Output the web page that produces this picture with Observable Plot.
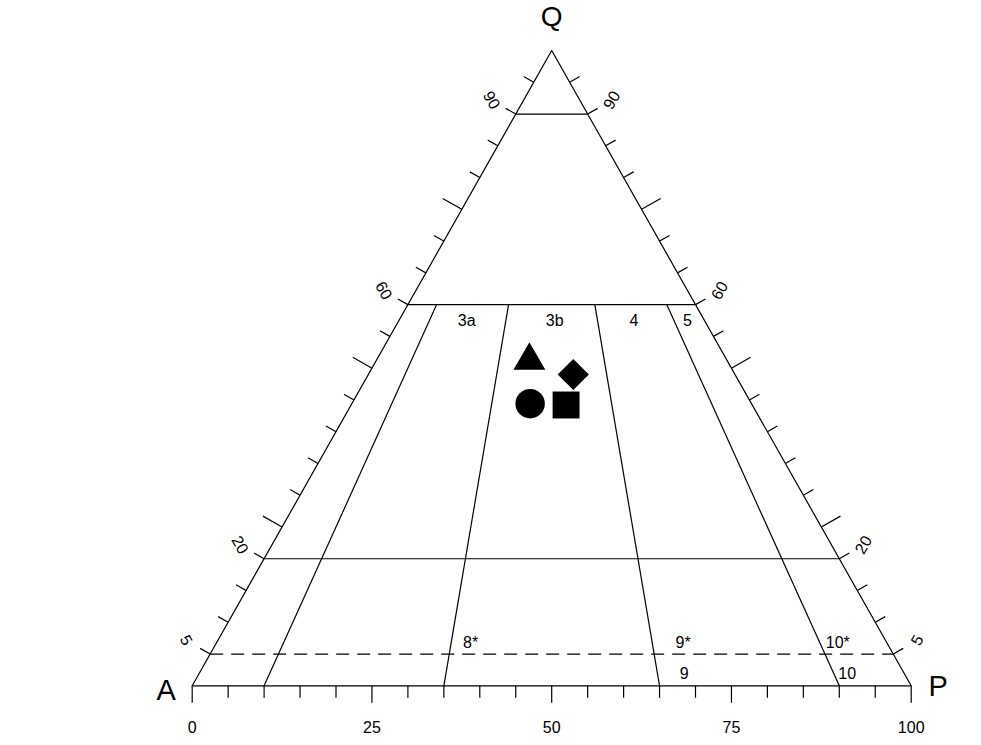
<!DOCTYPE html>
<html>
<head>
<meta charset="utf-8">
<script src="https://cdn.jsdelivr.net/npm/d3@7"></script>
<script src="https://cdn.jsdelivr.net/npm/@observablehq/plot@0.6"></script>
<style>
  body { margin: 0; background: #fff; }
  #chart svg { display: block; }
</style>
</head>
<body>
<div id="chart"></div>
<script>
// ---- Data (QAP ternary, percentages) ----
const cornerLabels = ["A", "P", "Q"];
const cornerQ = [0, 0, 100];
const cornerA = [100, 0, 0];
const cornerP = [0, 100, 0];

const solidQLines = [90, 60, 20];
const dashedQLines = [5];
const ratioLines = [10, 35, 65, 90];        // 100*P/(A+P) boundaries
const ratioLineTopQ = 60;

const baseTicks = [0, 5, 10, 15, 20, 25, 30, 35, 40, 45, 50, 55, 60, 65, 70, 75, 80, 85, 90, 95, 100];
const baseTickLabels = [0, 25, 50, 75, 100];
const sideTicks = [5, 10, 15, 20, 25, 30, 35, 40, 45, 50, 55, 60, 65, 70, 75, 80, 85, 90, 95];
const sideTickLabels = [5, 20, 60, 90];

const fieldNames = ["3a", "3b", "4", "5", "8*", "9*", "10*", "9", "10"];
const fieldQ     = [57.5, 57.5, 57.5, 57.5, 6.8, 6.8, 6.8, 1.9, 1.9];
const fieldRatio = [22.2, 51.0, 76.9, 94.4, 37.9, 69.6, 92.7, 68.8, 91.9];

const sampleSymbols = ["triangle", "diamond2", "circle", "square"];
const sampleQ = [51.2, 49.0, 44.4, 44.2];
const sampleA = [27.5, 22.5, 30.8, 25.9];
const sampleP = [21.3, 28.5, 24.8, 29.9];

// ---- Geometry helpers ----
const tern = (Q, A, P) => ({x: P + Q / 2, y: Q});
const fromRatio = (Q, r) => tern(Q, (100 - Q) * (1 - r / 100), (100 - Q) * r / 100);

const xRange = [191.7, 910.7];
const yRange = [685.3, 50];
const pxX = (xRange[1] - xRange[0]) / 100;
const pxY = (yRange[0] - yRange[1]) / 100;
// outward unit normal of left edge (screen px)
const ex = (xRange[1] - xRange[0]) / 2, ey = yRange[1] - yRange[0];
const en = Math.hypot(ex, ey);
const nLx = ey / en, nLy = -ex / en;     // (-0.87, -0.49)
const edgeAngle = Math.atan2(-nLx, -nLy) * 180 / Math.PI; // rotation of left labels
const font = "'Liberation Sans', Arial, Helvetica, sans-serif";

const corners = cornerLabels.map((l, i) => ({label: l, ...tern(cornerQ[i], cornerA[i], cornerP[i])}));
const outline = [corners[0], corners[1], corners[2], corners[0]];

const qLine = q => ({x1: q / 2, y1: q, x2: 100 - q / 2, y2: q});
const solid = solidQLines.map(qLine);
const dashed = dashedQLines.map(qLine);
const ratioSegs = ratioLines.map(r => {
  const a = fromRatio(ratioLineTopQ, r), b = fromRatio(0, r);
  return {x1: a.x, y1: a.y, x2: b.x, y2: b.y};
});

const baseTickSegs = baseTicks.map(v => {
  const L = v % 25 === 0 ? 17 : 12;
  return {x1: v, y1: 0, x2: v, y2: -L / pxY};
});
const sideTickSegs = [];
for (const q of sideTicks) {
  const L = q % 25 === 0 ? 22 : 11.5;
  // left edge
  sideTickSegs.push({x1: q / 2, y1: q, x2: q / 2 + nLx * L / pxX, y2: q - nLy * L / pxY});
  // right edge
  sideTickSegs.push({x1: 100 - q / 2, y1: q, x2: 100 - q / 2 - nLx * L / pxX, y2: q - nLy * L / pxY});
}
const labOff = 28;
const leftLabels = sideTickLabels.map(q => ({label: String(q), x: q / 2, y: q}));
const rightLabels = sideTickLabels.map(q => ({label: String(q), x: 100 - q / 2, y: q}));
const baseLabels = baseTickLabels.map(v => ({label: String(v), x: v, y: 0}));
const fields = fieldNames.map((n, i) => ({label: n, ...fromRatio(fieldQ[i], fieldRatio[i])}));
const samples = sampleSymbols.map((s, i) => ({symbol: s, ...tern(sampleQ[i], sampleA[i], sampleP[i])}));
const symbolR = {triangle: 11.8, diamond2: 14.05, circle: 14.7, square: 15.2};

const lw = 1.2;
const chart = Plot.plot({
  width: 981,
  height: 745,
  x: {domain: [0, 100], range: xRange, axis: null},
  y: {domain: [0, 100], range: yRange, axis: null},
  style: {fontFamily: font, background: "#fff", color: "#000"},
  marks: [
    Plot.line(outline, {x: "x", y: "y", stroke: "#000", strokeWidth: lw}),
    Plot.link(solid, {x1: "x1", y1: "y1", x2: "x2", y2: "y2", stroke: "#000", strokeWidth: lw}),
    Plot.link(dashed, {x1: "x1", y1: "y1", x2: "x2", y2: "y2", stroke: "#000", strokeWidth: lw, strokeDasharray: "13,8"}),
    Plot.link(ratioSegs, {x1: "x1", y1: "y1", x2: "x2", y2: "y2", stroke: "#000", strokeWidth: lw}),
    Plot.link(baseTickSegs, {x1: "x1", y1: "y1", x2: "x2", y2: "y2", stroke: "#000", strokeWidth: lw}),
    Plot.link(sideTickSegs, {x1: "x1", y1: "y1", x2: "x2", y2: "y2", stroke: "#000", strokeWidth: lw}),
    Plot.text(baseLabels, {x: "x", y: "y", text: "label", dy: 42, fontSize: 16, fill: "#000"}),
    Plot.text(leftLabels, {x: "x", y: "y", text: "label", dx: nLx * labOff, dy: nLy * labOff, rotate: edgeAngle, fontSize: 16, fill: "#000"}),
    Plot.text(rightLabels, {x: "x", y: "y", text: "label", dx: -nLx * labOff, dy: nLy * labOff, rotate: -edgeAngle, fontSize: 16, fill: "#000"}),
    Plot.text(fields, {x: "x", y: "y", text: "label", fontSize: 16, fill: "#000"}),
    Plot.text([corners[0]], {x: "x", y: "y", text: "label", dx: -26, dy: 5, fontSize: 29, fill: "#000"}),
    Plot.text([corners[1]], {x: "x", y: "y", text: "label", dx: 27, dy: 1, fontSize: 29, fill: "#000"}),
    Plot.text([corners[2]], {x: "x", y: "y", text: "label", dy: -33, fontSize: 28, fill: "#000"}),
    ...samples.map(s => Plot.dot([s], {x: "x", y: "y", symbol: () => s.symbol, r: symbolR[s.symbol], fill: "#000", stroke: "none"}))
  ]
});
document.getElementById("chart").appendChild(chart);
</script>
</body>
</html>
